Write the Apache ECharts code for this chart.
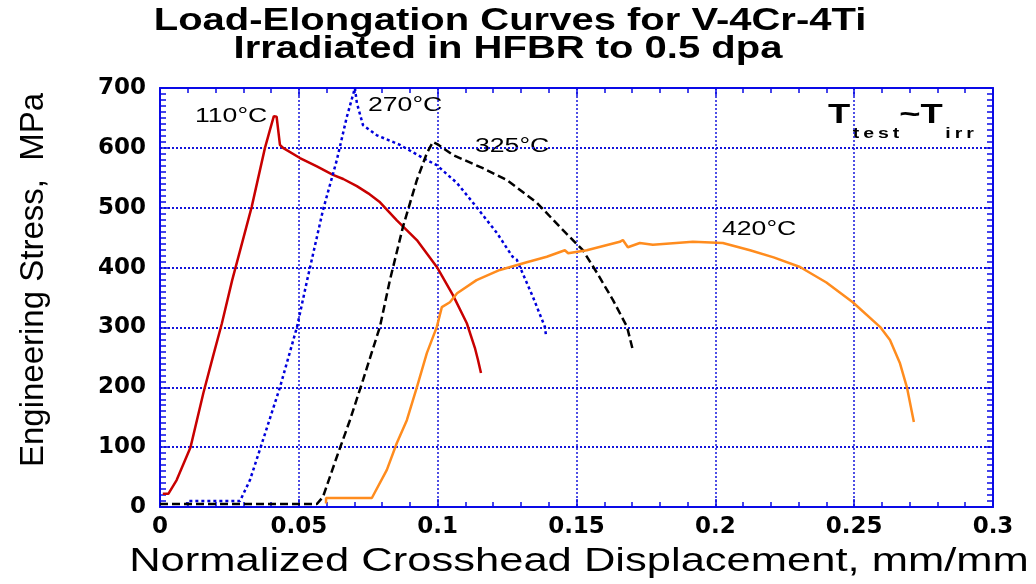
<!DOCTYPE html>
<html>
<head>
<meta charset="utf-8">
<script src="https://cdn.jsdelivr.net/npm/echarts@6/dist/echarts.min.js"></script>
<style>
  html, body { margin: 0; padding: 0; background: #fff; }
  #main { width: 1036px; height: 584px; }
</style>
</head>
<body>
<div id="main"></div>
<script>
// values: displacement (mm/mm) and stress (MPa)
const strain110 = [0.001, 0.003, 0.0036, 0.006, 0.011, 0.0156, 0.019, 0.0223, 0.026, 0.033, 0.0378, 0.0396, 0.041, 0.042, 0.0432, 0.0443, 0.0504, 0.0565, 0.0623, 0.066, 0.0709, 0.075, 0.079, 0.0853, 0.0925, 0.0997, 0.1055, 0.1105, 0.1134, 0.1145, 0.1156]
const stress110 = [22, 22, 23, 45, 100, 190, 250, 307, 379, 501, 600, 630, 653, 652, 605, 600, 583, 569, 555, 548, 536, 524, 510, 479, 446, 401, 354, 307, 266, 246, 224]

const strain270 = [0.0095, 0.01, 0.0288, 0.0324, 0.0371, 0.0432, 0.0493, 0.053, 0.0587, 0.0637, 0.0673, 0.0702, 0.0709, 0.0731, 0.0781, 0.0864, 0.0947, 0.0997, 0.107, 0.114, 0.1213, 0.127, 0.1285, 0.1343, 0.1386, 0.139]
const stress270 = [3, 10, 10, 45, 112, 200, 300, 379, 496, 580, 652, 700, 675, 638, 621, 605, 583, 571, 541, 501, 458, 418, 413, 351, 301, 287]

const strain325 = [0.0, 0.0565, 0.0587, 0.0637, 0.0684, 0.0731, 0.0792, 0.0828, 0.0875, 0.0925, 0.0961, 0.0983, 0.1, 0.1055, 0.1163, 0.125, 0.1358, 0.144, 0.1523, 0.1574, 0.1631, 0.1682, 0.1703]
const stress325 = [5, 5, 17, 84, 145, 212, 301, 379, 468, 546, 591, 610, 606, 588, 566, 546, 508, 468, 429, 391, 346, 301, 262]

const strain420 = [0.0598, 0.0598, 0.0763, 0.0817, 0.0853, 0.0889, 0.0925, 0.0961, 0.0997, 0.1015, 0.1044, 0.107, 0.114, 0.1224, 0.1321, 0.1393, 0.1458, 0.147, 0.1537, 0.1656, 0.1667, 0.1685, 0.1728, 0.1775, 0.1919, 0.2027, 0.2125, 0.221, 0.2305, 0.24, 0.2495, 0.2593, 0.2629, 0.2665, 0.269, 0.2715]
const stress420 = [6, 15, 15, 62, 107, 145, 200, 257, 301, 334, 342, 357, 379, 396, 409, 418, 429, 424, 429, 443, 446, 434, 441, 438, 443, 441, 429, 417, 401, 375, 342, 301, 279, 240, 200, 142]

const xTicks = { min: 0, max: 0.3, interval: 0.05 }
const yTicks = { min: 0, max: 700, interval: 100 }

const zip = (xs, ys) => xs.map((x, i) => [x, ys[i]])

const blue = '#1414dc'
const axisColor = '#0a0ae6'

const chart = echarts.init(document.getElementById('main'))

function baseAxis(extra) {
  return Object.assign({
    type: 'value',
    axisLine: { show: true, onZero: false, lineStyle: { color: axisColor, width: 2 } },
    axisTick: { show: true, inside: true, length: 8, lineStyle: { color: axisColor, width: 1.5 } },
    splitLine: { show: false }
  }, extra)
}

const tickFont = {
  fontFamily: 'DejaVu Sans',
  fontWeight: 'bold',
  fontSize: 23,
  color: '#000'
}

const option = {
  animation: false,
  grid: { left: 160, right: 43, top: 88, bottom: 77 },
  xAxis: [
    baseAxis({
      position: 'bottom',
      ...xTicks,
      minorTick: { show: true, splitNumber: 5, length: 5, lineStyle: { color: axisColor, width: 1.5 } },
      axisLabel: { ...tickFont, margin: 9 },
      splitLine: { show: true, lineStyle: { color: blue, width: 1.5, type: [2, 2] } }
    }),
    baseAxis({
      position: 'top',
      ...xTicks,
      minorTick: { show: true, splitNumber: 5, length: 5, lineStyle: { color: axisColor, width: 1.5 } },
      axisLabel: { show: false }
    })
  ],
  yAxis: [
    baseAxis({
      position: 'left',
      ...yTicks,
      minorTick: { show: true, splitNumber: 10, length: 6, lineStyle: { color: axisColor, width: 1.5 } },
      axisLabel: { ...tickFont, margin: 14 },
      splitLine: { show: true, lineStyle: { color: blue, width: 2, type: [2, 2] } }
    }),
    baseAxis({
      position: 'right',
      ...yTicks,
      minorTick: { show: true, splitNumber: 10, length: 6, lineStyle: { color: axisColor, width: 1.5 } },
      axisLabel: { show: false }
    })
  ],
  series: [
    {
      name: '110°C',
      type: 'line',
      showSymbol: false,
      data: zip(strain110, stress110),
      lineStyle: { color: '#c80000', width: 2.5 }
    },
    {
      name: '270°C',
      type: 'line',
      showSymbol: false,
      data: zip(strain270, stress270),
      lineStyle: { color: '#0000dc', width: 2.5, type: [3, 3] }
    },
    {
      name: '325°C',
      type: 'line',
      showSymbol: false,
      data: zip(strain325, stress325),
      lineStyle: { color: '#000', width: 2.5, type: [8, 4] }
    },
    {
      name: '420°C',
      type: 'line',
      showSymbol: false,
      data: zip(strain420, stress420),
      lineStyle: { color: '#ff8c1e', width: 2.5 }
    }
  ],
  graphic: [
    // title, drawn a bit wider than the font like the original
    {
      type: 'text', x: 510, y: 21, scaleX: 1.29,
      style: { text: 'Load-Elongation Curves for V-4Cr-4Ti', fontFamily: 'Liberation Sans', fontWeight: 'bold', fontSize: 31, fill: '#000', textAlign: 'center', textVerticalAlign: 'middle' }
    },
    {
      type: 'text', x: 508, y: 49, scaleX: 1.29,
      style: { text: 'Irradiated in HFBR to 0.5 dpa', fontFamily: 'Liberation Sans', fontWeight: 'bold', fontSize: 31, fill: '#000', textAlign: 'center', textVerticalAlign: 'middle' }
    },
    // axis names
    {
      type: 'text', x: 579, y: 562, scaleX: 1.28,
      style: { text: 'Normalized Crosshead Displacement, mm/mm', fontFamily: 'Liberation Sans', fontSize: 34, fill: '#000', textAlign: 'center', textVerticalAlign: 'middle' }
    },
    {
      type: 'text', x: 34, y: 280, rotation: Math.PI / 2,
      style: { text: 'Engineering Stress,  MPa', fontFamily: 'Liberation Sans', fontSize: 33, fill: '#000', textAlign: 'center', textVerticalAlign: 'middle' }
    },
    // curve labels
    { type: 'text', x: 195, y: 116, scaleX: 1.33, style: { text: '110°C', fontFamily: 'Liberation Sans', fontSize: 20, fill: '#000', textVerticalAlign: 'middle' } },
    { type: 'text', x: 368, y: 105, scaleX: 1.33, style: { text: '270°C', fontFamily: 'Liberation Sans', fontSize: 20, fill: '#000', textVerticalAlign: 'middle' } },
    { type: 'text', x: 475, y: 146, scaleX: 1.33, style: { text: '325°C', fontFamily: 'Liberation Sans', fontSize: 20, fill: '#000', textVerticalAlign: 'middle' } },
    { type: 'text', x: 722, y: 229, scaleX: 1.33, style: { text: '420°C', fontFamily: 'Liberation Sans', fontSize: 20, fill: '#000', textVerticalAlign: 'middle' } },
    {
      type: 'text', x: 828, y: 101, scaleX: 1.3,
      style: {
        text: '{b|T}{s|t\u2009e\u2009s\u2009t}{b|~T}{s|i\u2009r\u2009r}',
        fill: '#000',
        rich: {
          b: { fontFamily: 'Liberation Sans', fontWeight: 'bold', fontSize: 28, lineHeight: 28, verticalAlign: 'top' },
          s: { fontFamily: 'Liberation Sans', fontWeight: 'bold', fontSize: 15, lineHeight: 15, padding: [25, 0, 0, 2], verticalAlign: 'top' }
        }
      }
    }
  ]
}

chart.setOption(option)
</script>
</body>
</html>
